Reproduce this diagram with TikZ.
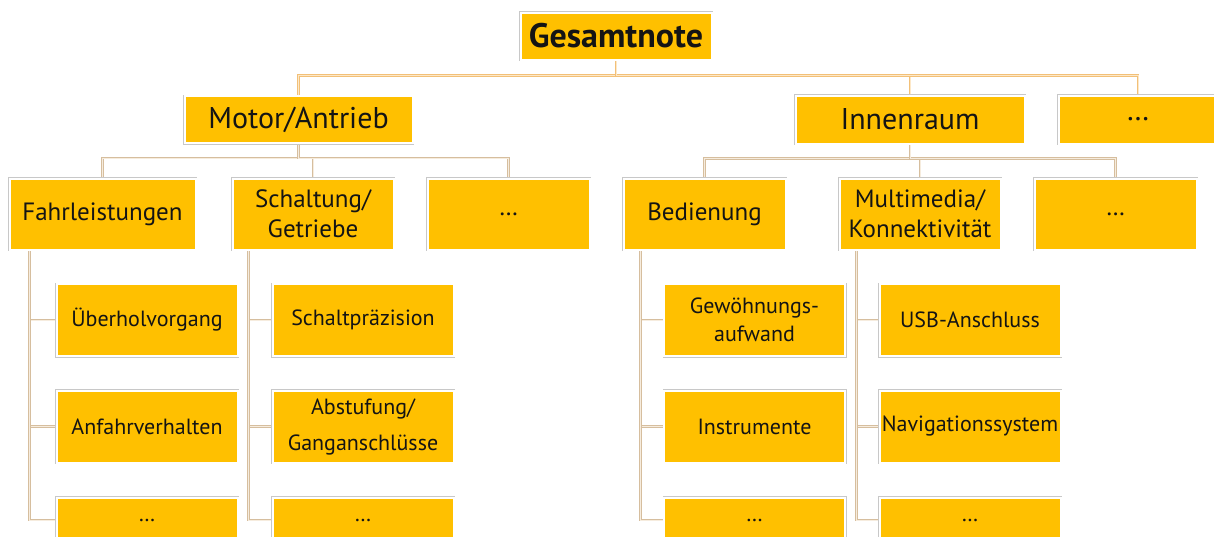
\documentclass[tikz,border=0pt]{standalone}
\usepackage{fontspec}
\setmainfont{PT Sans}
\usetikzlibrary{backgrounds}
\definecolor{gold}{RGB}{255,192,0}
\definecolor{boxgray}{RGB}{200,200,200}
\definecolor{lineA}{RGB}{242,192,120}
\definecolor{lineAin}{RGB}{253,232,200}
\definecolor{lineB}{RGB}{214,190,158}
\definecolor{lineBin}{RGB}{246,236,222}
\definecolor{txt}{RGB}{20,20,20}
\begin{document}
\begin{tikzpicture}[x=1pt,y=-1pt,
  box/.style={rectangle, fill=gold, draw=white, line width=2pt, inner sep=0pt, outer sep=0pt,
    preaction={draw=boxgray, line width=3pt}, align=center, text=txt},
  lvA/.style={box, font=\fontsize{34}{38}\selectfont\bfseries},
  lvB/.style={box, font=\fontsize{30}{34}\selectfont},
  lvC/.style={box, font=\fontsize{25}{30}\selectfont},
  lvD/.style={box, font=\fontsize{22}{28}\selectfont, minimum width=181pt},
  conA/.style={draw=lineA, double=lineAin, line width=0.6pt, double distance=1pt},
  conB/.style={draw=lineB, double=lineBin, line width=0.6pt, double distance=1pt}]
\useasboundingbox (0,0) rectangle (1214,536);
\begin{scope}
\clip (0,0) rectangle (1214,536);
% level 0
\node[lvA, minimum width=191pt, minimum height=47pt] (G) at (616,36) {Gesamtnote};
% level 1
\node[lvB, minimum width=228pt, minimum height=47pt] (M) at (298.5,119.5) {Motor/Antrieb};
\node[lvB, minimum width=229pt, minimum height=48pt] (I) at (910,119.5) {Innenraum};
\node[lvB, minimum width=159pt, minimum height=48pt] (D1) at (1138,119.5) {…};
% level 2
\node[lvC, minimum width=186pt, minimum height=71pt] (F) at (102.5,214) {Fahrleistungen};
\node[lvC, minimum width=161pt, minimum height=71pt] (S) at (313,214) {Schaltung/\\Getriebe};
\node[lvC, minimum width=162pt, minimum height=71pt] (D2) at (508.5,214) {…};
\node[lvC, minimum width=162pt, minimum height=71pt] (B) at (704.5,214) {Bedienung};
\node[lvC, minimum width=161pt, minimum height=71pt] (MM) at (920,214) {Multimedia/\\Konnektivität};
\node[lvC, minimum width=162pt, minimum height=71pt] (D3) at (1115.5,214) {…};
% level 3
\node[lvD, minimum height=72pt] (F1) at (147,320) {Überholvorgang};
\node[lvD, minimum height=72pt] (F2) at (147,426.5) {Anfahrverhalten};
\node[lvD, minimum height=45pt] (F3) at (147,520) {…};
\node[lvD, minimum height=72pt] (S1) at (363,320) {Schaltpräzision};
\node[lvD, minimum height=72pt, font=\fontsize{22}{36}\selectfont] (S2) at (363,426.5) {Abstufung/\\Ganganschlüsse};
\node[lvD, minimum height=45pt] (S3) at (363,520) {…};
\node[lvD, minimum height=72pt] (B1) at (754.5,320) {Gewöhnungs-\\aufwand};
\node[lvD, minimum height=72pt] (B2) at (754.5,426.5) {Instrumente};
\node[lvD, minimum height=45pt] (B3) at (754.5,520) {…};
\node[lvD, minimum height=72pt] (M1) at (970,320) {USB-Anschluss};
\node[lvD, minimum height=72pt] (M2) at (970,426.5) {Navigationssystem};
\node[lvD, minimum height=45pt] (M3) at (970,520) {…};
% connectors
\begin{scope}[on background layer]
\draw[conA] (G.south) -- ++(0,16) -| (M.north);
\draw[conA] (G.south) -- ++(0,16) -| (I.north);
\draw[conA] (G.south) -- ++(0,16) -| (D1.north);
\foreach \c in {F,S,D2}{\draw[conB] (M.south) -- ++(0,15) -| (\c.north);}
\foreach \c in {B,MM,D3}{\draw[conB] (I.south) -- ++(0,15) -| (\c.north);}
\foreach \c in {F1,F2,F3}{\draw[conB] ([xshift=20pt]F.south west) |- (\c.west);}
\foreach \c in {S1,S2,S3}{\draw[conB] ([xshift=16pt]S.south west) |- (\c.west);}
\foreach \c in {B1,B2,B3}{\draw[conB] ([xshift=17pt]B.south west) |- (\c.west);}
\foreach \c in {M1,M2,M3}{\draw[conB] ([xshift=17pt]MM.south west) |- (\c.west);}
\end{scope}
\end{scope}
\end{tikzpicture}
\end{document}
